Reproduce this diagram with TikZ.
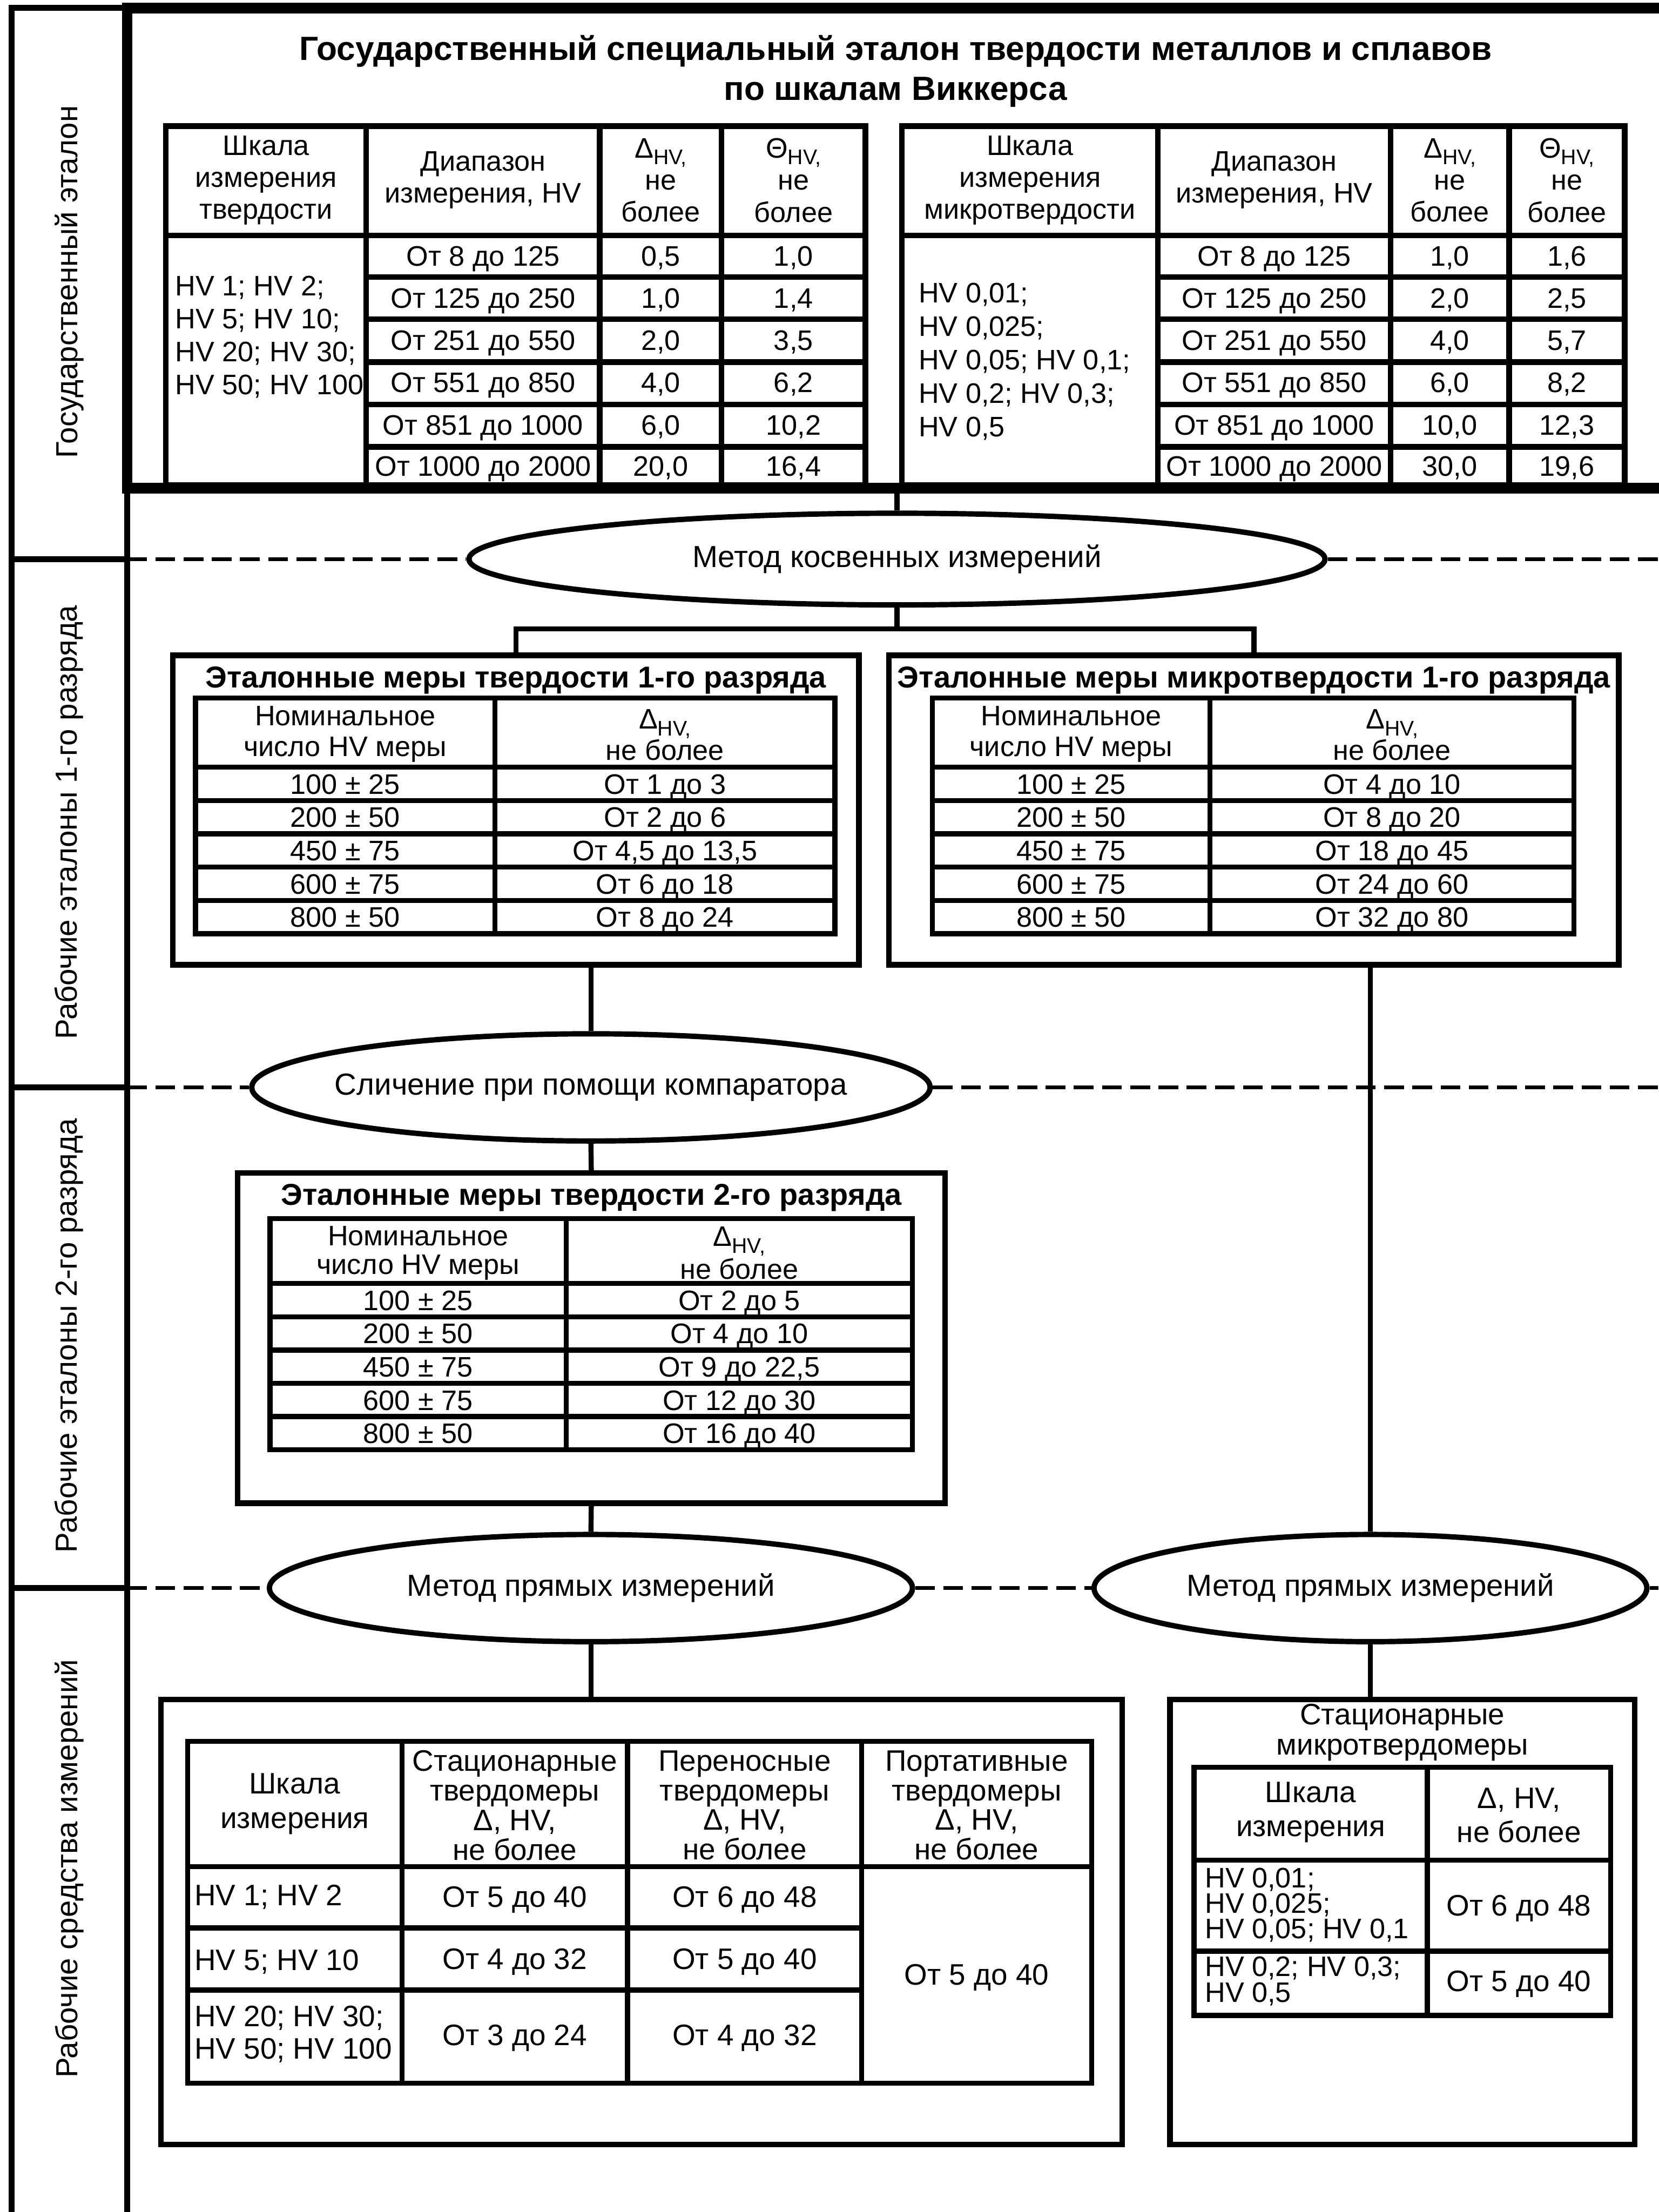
\documentclass[tikz,border=0pt]{standalone}
\usepackage{fontspec}
\setmainfont{Liberation Sans}
\usetikzlibrary{shapes.geometric}
\newcommand\tightlines{\lineskiplimit=-20pt\relax}
\newcommand\hvsub{\raisebox{-0.45ex}{\fontsize{7.5}{8}\selectfont HV,}}
\tikzset{stdframe/.style={line width=3.8pt},colrule/.style={line width=2.15pt},boxframe/.style={draw,line width=2pt,inner sep=0pt,outer sep=0pt,anchor=north west},gridrule/.style={line width=1.8pt},toprule/.style={line width=2pt},link/.style={line width=1.8pt},dashrule/.style={line width=1.4pt,dash pattern=on 7pt off 3pt},oval/.style={ellipse,draw,line width=1.9pt,fill=white,inner sep=0pt,font=\fontsize{10.8}{12}\selectfont},cell/.style={anchor=center,inner sep=0pt,text height=7.2pt,text depth=0pt,font=\fontsize{10}{12}\selectfont},mcell/.style={anchor=center,inner sep=0pt,align=center,font=\fontsize{10}{11.35}\selectfont},lcell/.style={anchor=west,inner sep=0pt,align=left,font=\fontsize{10}{11.7}\selectfont},sidelabel/.style={rotate=90,inner sep=0pt,font=\fontsize{10.8}{12}\selectfont},boxtitle/.style={anchor=center,inner sep=0pt,text height=7.6pt,text depth=0pt,font=\bfseries\fontsize{10.7}{12}\selectfont}}

\begin{document}
\begin{tikzpicture}[x=0.5pt,y=-0.5pt]
\path[use as bounding box] (0,0) rectangle (1176,1568.4);
% left column
\draw[colrule] (8.3,1568.4) -- (8.3,5.5) -- (90.2,5.5) -- (90.2,1568.4);
\draw[colrule] (8.3,396.4) -- (90.2,396.4) (8.3,771) -- (90.2,771) (8.3,1126) -- (90.2,1126);
\node[sidelabel] (lab1) at (49,200) {Государственный эталон};
\node[sidelabel] (lab2) at (49,583) {Рабочие эталоны 1-го разряда};
\node[sidelabel] (lab3) at (49,947) {Рабочие эталоны 2-го разряда};
\node[sidelabel] (lab4) at (49,1325) {Рабочие средства измерений};
% state standard
\node[align=center,inner sep=0pt,font=\bfseries\fontsize{11.9}{14.2}\selectfont] (ttl) at (635,50.5) {Государственный специальный эталон твердости металлов и сплавов\\по шкалам Виккерса};
\draw[toprule] (117.6,89.4) rectangle (613.6,344);
\draw[toprule] (259.6,89.4) -- (259.6,344) (425.3,89.4) -- (425.3,344) (511.6,89.4) -- (511.6,344);
\draw[toprule] (117.6,167) -- (613.6,167);
\draw[toprule] (259.6,196.4) -- (613.6,196.4) (259.6,226.2) -- (613.6,226.2) (259.6,256.7) -- (613.6,256.7) (259.6,286.8) -- (613.6,286.8) (259.6,316.8) -- (613.6,316.8);
\node[mcell] (hl1) at (188.6,127.8) {Шкала\\измерения\\твердости};
\node[mcell] (hl2) at (342.5,127.8) {Диапазон\\измерения, HV};
\node[mcell] (hl3) at (468.5,127.8) {Δ\hvsub\\не\\более};
\node[mcell] (hl4) at (562.6,127.8) {Θ\hvsub\\не\\более};
\node[lcell] (bl1) at (124,239) {HV 1; HV 2;\\HV 5; HV 10;\\HV 20; HV 30;\\HV 50; HV 100};
\node[cell] (la1) at (342.5,181.2) {От 8 до 125};
\node[cell] (la2) at (342.5,211.3) {От 125 до 250};
\node[cell] (la3) at (342.5,241.3) {От 251 до 550};
\node[cell] (la4) at (342.5,271) {От 551 до 850};
\node[cell] (la5) at (342.5,301.2) {От 851 до 1000};
\node[cell] (la6) at (342.5,330.3) {От 1000 до 2000};
\node[cell] (lb1) at (468.5,181.2) {0,5};
\node[cell] (lb2) at (468.5,211.3) {1,0};
\node[cell] (lb3) at (468.5,241.3) {2,0};
\node[cell] (lb4) at (468.5,271) {4,0};
\node[cell] (lb5) at (468.5,301.2) {6,0};
\node[cell] (lb6) at (468.5,330.3) {20,0};
\node[cell] (lc1) at (562.6,181.2) {1,0};
\node[cell] (lc2) at (562.6,211.3) {1,4};
\node[cell] (lc3) at (562.6,241.3) {3,5};
\node[cell] (lc4) at (562.6,271) {6,2};
\node[cell] (lc5) at (562.6,301.2) {10,2};
\node[cell] (lc6) at (562.6,330.3) {16,4};
\draw[toprule] (639.5,89.4) rectangle (1152,344);
\draw[toprule] (821,89.4) -- (821,344) (986,89.4) -- (986,344) (1070,89.4) -- (1070,344);
\draw[toprule] (639.5,167) -- (1152,167);
\draw[toprule] (821,196.4) -- (1152,196.4) (821,226.2) -- (1152,226.2) (821,256.7) -- (1152,256.7) (821,286.8) -- (1152,286.8) (821,316.8) -- (1152,316.8);
\node[mcell] (hr1) at (730.3,127.8) {Шкала\\измерения\\микротвердости};
\node[mcell] (hr2) at (903.5,127.8) {Диапазон\\измерения, HV};
\node[mcell] (hr3) at (1028,127.8) {Δ\hvsub\\не\\более};
\node[mcell] (hr4) at (1111,127.8) {Θ\hvsub\\не\\более};
\node[lcell,font=\fontsize{10}{11.85}\selectfont] (br1) at (651,256.5) {HV 0,01;\\HV 0,025;\\HV 0,05; HV 0,1;\\HV 0,2; HV 0,3;\\HV 0,5};
\node[cell] (ra1) at (903.5,181.2) {От 8 до 125};
\node[cell] (ra2) at (903.5,211.3) {От 125 до 250};
\node[cell] (ra3) at (903.5,241.3) {От 251 до 550};
\node[cell] (ra4) at (903.5,271) {От 551 до 850};
\node[cell] (ra5) at (903.5,301.2) {От 851 до 1000};
\node[cell] (ra6) at (903.5,330.3) {От 1000 до 2000};
\node[cell] (rb1) at (1028,181.2) {1,0};
\node[cell] (rb2) at (1028,211.3) {2,0};
\node[cell] (rb3) at (1028,241.3) {4,0};
\node[cell] (rb4) at (1028,271) {6,0};
\node[cell] (rb5) at (1028,301.2) {10,0};
\node[cell] (rb6) at (1028,330.3) {30,0};
\node[cell] (rc1) at (1111,181.2) {1,6};
\node[cell] (rc2) at (1111,211.3) {2,5};
\node[cell] (rc3) at (1111,241.3) {5,7};
\node[cell] (rc4) at (1111,271) {8,2};
\node[cell] (rc5) at (1111,301.2) {12,3};
\node[cell] (rc6) at (1111,330.3) {19,6};
\draw[stdframe] (1180,5.9) -- (90.2,5.9) -- (90.2,346) -- (1180,346);
\coordinate (stdbot) at (636,346);
% methods
\node[oval,minimum width=303.5pt,minimum height=32.5pt] (ell1) at (636,396.4) {Метод косвенных измерений};
\node[oval,inner xsep=-8pt,minimum width=240.5pt,minimum height=38pt] (ell2) at (419,771) {Сличение при помощи компаратора};
\node[oval,minimum width=228pt,minimum height=38pt] (ell3) at (419,1126) {Метод прямых измерений};
\node[oval,minimum width=196pt,minimum height=38pt] (ell4) at (971.7,1126) {Метод прямых измерений};
\coordinate (d1l) at (90.2,396.4);
\coordinate (d1r) at (1176,396.4);
\coordinate (d2l) at (90.2,771);
\coordinate (d2r) at (1176,771);
\coordinate (d3l) at (90.2,1126);
\coordinate (d3r) at (1176,1126);
\draw[dashrule] (d1l) -- (ell1.west) (ell1.east) -- (d1r);
\draw[dashrule] (d2l) -- (ell2.west) (ell2.east) -- (d2r);
\draw[dashrule] (d3l) -- (ell3.west) (ell3.east) -- (ell4.west) (ell4.east) -- (d3r);
% 1st rank
\node[boxframe,minimum width=243.2pt,minimum height=109.65pt] (b1l) at (122.6,464.7) {};
\node[boxtitle] (t1l) at (365.8,480) {Эталонные меры твердости 1-го разряда};
\draw[gridrule] (138.6,495) rectangle (592,662);
\draw[gridrule] (351,495) -- (351,662);
\draw[gridrule] (138.6,544) -- (592,544) (138.6,567.6) -- (592,567.6) (138.6,591.2) -- (592,591.2) (138.6,614.8) -- (592,614.8) (138.6,638.4) -- (592,638.4);
\node[mcell,font=\fontsize{10}{11}\selectfont] (ph1) at (244.8,520.5) {Номинальное\\число HV меры};
\node[mcell,font=\fontsize{10}{11}\selectfont] (ph2) at (471.5,521) {Δ\hvsub\\не более};
\node[cell] (pa1) at (244.8,555.8) {100 ± 25};
\node[cell] (pa2) at (244.8,579.4) {200 ± 50};
\node[cell] (pa3) at (244.8,603) {450 ± 75};
\node[cell] (pa4) at (244.8,626.6) {600 ± 75};
\node[cell] (pa5) at (244.8,650.2) {800 ± 50};
\node[cell] (pb1) at (471.5,555.8) {От 1 до 3};
\node[cell] (pb2) at (471.5,579.4) {От 2 до 6};
\node[cell] (pb3) at (471.5,603) {От 4,5 до 13,5};
\node[cell] (pb4) at (471.5,626.6) {От 6 до 18};
\node[cell] (pb5) at (471.5,650.2) {От 8 до 24};
\node[boxframe,minimum width=258.75pt,minimum height=109.65pt] (b1r) at (630.3,464.7) {};
\node[boxtitle] (t1r) at (889,480) {Эталонные меры микротвердости 1-го разряда};
\draw[gridrule] (661,495) rectangle (1116,662);
\draw[gridrule] (858,495) -- (858,662);
\draw[gridrule] (661,544) -- (1116,544) (661,567.6) -- (1116,567.6) (661,591.2) -- (1116,591.2) (661,614.8) -- (1116,614.8) (661,638.4) -- (1116,638.4);
\node[mcell,font=\fontsize{10}{11}\selectfont] (qh1) at (759.5,520.5) {Номинальное\\число HV меры};
\node[mcell,font=\fontsize{10}{11}\selectfont] (qh2) at (987,521) {Δ\hvsub\\не более};
\node[cell] (qa1) at (759.5,555.8) {100 ± 25};
\node[cell] (qa2) at (759.5,579.4) {200 ± 50};
\node[cell] (qa3) at (759.5,603) {450 ± 75};
\node[cell] (qa4) at (759.5,626.6) {600 ± 75};
\node[cell] (qa5) at (759.5,650.2) {800 ± 50};
\node[cell] (qb1) at (987,555.8) {От 4 до 10};
\node[cell] (qb2) at (987,579.4) {От 8 до 20};
\node[cell] (qb3) at (987,603) {От 18 до 45};
\node[cell] (qb4) at (987,626.6) {От 24 до 60};
\node[cell] (qb5) at (987,650.2) {От 32 до 80};
% 2nd rank
\node[boxframe,minimum width=250.75pt,minimum height=117.1pt] (b2) at (168.5,831.6) {};
\node[boxtitle] (t2) at (419.3,846.7) {Эталонные меры твердости 2-го разряда};
\draw[gridrule] (191.4,864) rectangle (646.9,1028);
\draw[gridrule] (401.5,864) -- (401.5,1028);
\draw[gridrule] (191.4,910) -- (646.9,910) (191.4,933.6) -- (646.9,933.6) (191.4,957.2) -- (646.9,957.2) (191.4,980.8) -- (646.9,980.8) (191.4,1004.4) -- (646.9,1004.4);
\node[mcell,font=\fontsize{10}{10.25}\selectfont] (sh1) at (296.5,888.5) {Номинальное\\число HV меры};
\node[mcell,font=\fontsize{10}{10.25}\selectfont] (sh2) at (524.2,888.5) {Δ\hvsub\\не более};
\node[cell] (sa1) at (296.5,921.8) {100 ± 25};
\node[cell] (sa2) at (296.5,945.4) {200 ± 50};
\node[cell] (sa3) at (296.5,969) {450 ± 75};
\node[cell] (sa4) at (296.5,992.6) {600 ± 75};
\node[cell] (sa5) at (296.5,1016.2) {800 ± 50};
\node[cell] (sc1) at (524.2,921.8) {От 2 до 5};
\node[cell] (sc2) at (524.2,945.4) {От 4 до 10};
\node[cell] (sc3) at (524.2,969) {От 9 до 22,5};
\node[cell] (sc4) at (524.2,992.6) {От 12 до 30};
\node[cell] (sc5) at (524.2,1016.2) {От 16 до 40};
% working instruments
\node[boxframe,minimum width=340.75pt,minimum height=157.8pt] (b3l) at (114.2,1205) {};
\draw[gridrule] (133.1,1234.7) rectangle (774,1477);
\draw[gridrule] (285,1234.7) -- (285,1477) (445,1234.7) -- (445,1477) (611,1234.7) -- (611,1477);
\draw[gridrule] (133.1,1323.6) -- (774,1323.6) (133.1,1367) -- (611,1367) (133.1,1411) -- (611,1411);
\node[mcell,font=\fontsize{10.5}{12.3}\selectfont] (uh1) at (209,1279) {Шкала\\измерения};
\node[mcell,font=\fontsize{10.5}{10.5}\selectfont] (uh2) at (365,1280) {Стационарные\\твердомеры\\Δ, HV,\\не более};
\node[mcell,font=\fontsize{10.5}{10.5}\selectfont] (uh3) at (528,1280) {Переносные\\твердомеры\\Δ, HV,\\не более};
\node[mcell,font=\fontsize{10.5}{10.5}\selectfont] (uh4) at (692.5,1280) {Портативные\\твердомеры\\Δ, HV,\\не более};
\node[lcell,font=\fontsize{10.5}{11.5}\selectfont] (ua1) at (137.5,1345) {HV 1; HV 2};
\node[lcell,font=\fontsize{10.5}{11.5}\selectfont] (ua2) at (137.5,1391) {HV 5; HV 10};
\node[lcell,font=\fontsize{10.5}{11.5}\selectfont] (ua3) at (137.5,1442.5) {HV 20; HV 30;\\HV 50; HV 100};
\node[cell,font=\fontsize{10.5}{12}\selectfont] (ub1) at (365,1345) {От 5 до 40};
\node[cell,font=\fontsize{10.5}{12}\selectfont] (ub2) at (365,1389) {От 4 до 32};
\node[cell,font=\fontsize{10.5}{12}\selectfont] (ub3) at (365,1443) {От 3 до 24};
\node[cell,font=\fontsize{10.5}{12}\selectfont] (uc1) at (528,1345) {От 6 до 48};
\node[cell,font=\fontsize{10.5}{12}\selectfont] (uc2) at (528,1389) {От 5 до 40};
\node[cell,font=\fontsize{10.5}{12}\selectfont] (uc3) at (528,1443) {От 4 до 32};
\node[cell,font=\fontsize{10.5}{12}\selectfont] (ud1) at (692.5,1400) {От 5 до 40};
\node[boxframe,minimum width=164.75pt,minimum height=157.8pt] (b3r) at (829.5,1205) {};
\node[mcell,font=\fontsize{10.5}{10.6}\selectfont] (t3r) at (994.3,1228.4) {Стационарные\\микротвердомеры};
\draw[gridrule] (846.6,1253) rectangle (1142,1429);
\draw[gridrule] (1012,1253) -- (1012,1429);
\draw[gridrule] (846.6,1319) -- (1142,1319) (846.6,1383.4) -- (1142,1383.4);
\node[mcell,font=\fontsize{10.5}{12.2}\selectfont] (vh1) at (929.3,1285) {Шкала\\измерения};
\node[mcell,font=\fontsize{10.5}{12}\selectfont] (vh2) at (1077,1287) {Δ, HV,\\не более};
\node[lcell,font={\fontsize{10}{9}\selectfont\tightlines}] (va1) at (854,1350.6) {HV 0,01;\\HV 0,025;\\HV 0,05; HV 0,1};
\node[lcell,font={\fontsize{10}{9.2}\selectfont\tightlines}] (va2) at (854,1404.8) {HV 0,2; HV 0,3;\\HV 0,5};
\node[cell,font=\fontsize{10.5}{12}\selectfont] (vb1) at (1077,1351) {От 6 до 48};
\node[cell,font=\fontsize{10.5}{12}\selectfont] (vb2) at (1077,1404.8) {От 5 до 40};
% connectors
\coordinate (fork) at (636,446);
\draw[link] (stdbot) -- (ell1.north);
\draw[link] (ell1.south) -- (fork);
\draw[link] (b1l.north) |- (fork) -| (b1r.north);
\draw[link] (b1l.south -| ell2.north) -- (ell2.north);
\draw[link] (ell2.south) -- (b2.north);
\draw[link] (b2.south) -- (ell3.north);
\draw[link] (ell3.south) -- (ell3.south |- b3l.north);
\draw[link] (b1r.south -| ell4.north) -- (ell4.north);
\draw[link] (ell4.south) -- (ell4.south |- b3r.north);
\end{tikzpicture}
\end{document}
